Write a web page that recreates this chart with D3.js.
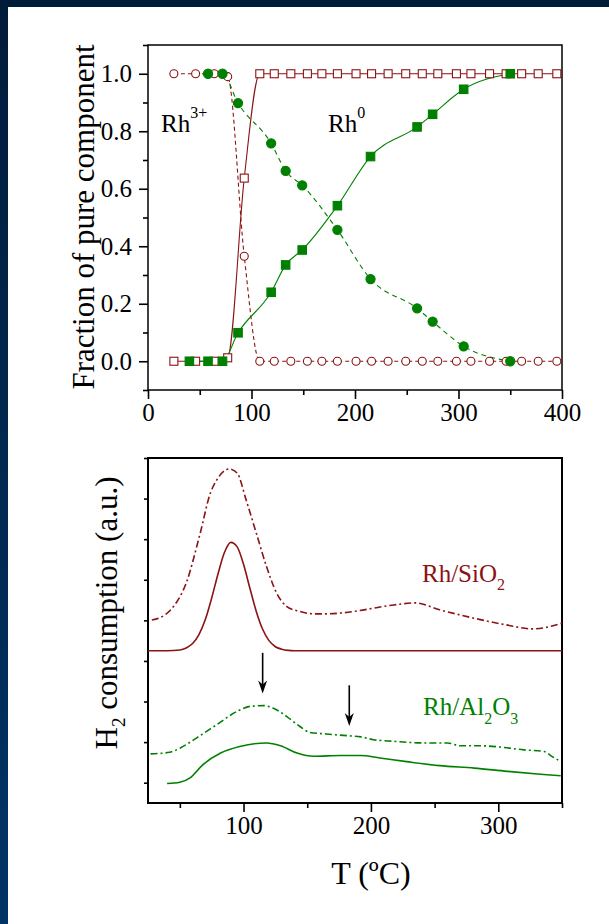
<!DOCTYPE html>
<html>
<head>
<meta charset="utf-8">
<script src="https://cdn.jsdelivr.net/npm/d3@7"></script>
<style>
  html, body { margin: 0; padding: 0; background: #011d3b; }
  svg { display: block; }
  text { font-family: "Liberation Serif", "Times New Roman", serif; }
</style>
</head>
<body>
<div id="chart"></div>
<script>
const WIDTH = 609;
const HEIGHT = 924;

const RED = '#8b1313';
const GREEN = '#008000';

// ---- top panel: fraction of pure component ----
const siTemps = [25, 46, 64, 77, 93, 108, 122, 138, 154, 168, 183, 201, 216, 232, 249, 265, 280, 298, 312, 330, 346, 361, 377, 395];
const siRh3 = [1, 1, 1, 0.99, 0.365, 0, 0, 0, 0, 0, 0, 0, 0, 0, 0, 0, 0, 0, 0, 0, 0, 0, 0, 0];
const siRh0 = [0, 0, 0, 0.012, 0.637, 1, 1, 1, 1, 1, 1, 1, 1, 1, 1, 1, 1, 1, 1, 1, 1, 1, 1, 1];

const alTempsRh0 = [40, 58, 72, 87, 119, 133, 149, 183, 215, 260, 275, 305, 350];
const alRh0 = [0, 0, 0, 0.099, 0.24, 0.335, 0.387, 0.541, 0.712, 0.815, 0.859, 0.946, 1.0];
const alTempsRh3 = [58, 72, 87, 119, 133, 149, 183, 215, 260, 275, 305, 350];
const alRh3 = [1, 1, 0.898, 0.758, 0.662, 0.612, 0.457, 0.286, 0.184, 0.138, 0.052, 0];

const topXTicks = [0, 100, 200, 300, 400];
const topXMinor = [50, 150, 250, 350];
const topYTicks = [0, 0.2, 0.4, 0.6, 0.8, 1.0];
const topYMinor = [-0.1, 0.1, 0.3, 0.5, 0.7, 0.9, 1.1];

// ---- bottom panel: H2 consumption (TPR) ----
const siTprTemps = [25, 40, 50, 55, 60, 65, 70, 75, 80, 85, 90, 95, 100, 105, 110, 115, 120, 125, 130, 135, 140, 200, 260, 350];
const siTpr = [3.25, 3.25, 3.27, 3.32, 3.43, 3.65, 4.02, 4.55, 5.15, 5.67, 5.92, 5.81, 5.38, 4.79, 4.22, 3.78, 3.50, 3.35, 3.29, 3.26, 3.25, 3.25, 3.25, 3.25];

const siTpr2Temps = [28, 34, 45, 55, 66, 74, 79, 89, 95, 102, 110, 118, 126, 134, 144, 155, 165, 176, 191, 202, 218, 235, 254, 280, 306, 327, 350];
const siTpr2 = [4.01, 4.06, 4.34, 4.92, 6.15, 7.14, 7.46, 7.73, 7.63, 6.97, 6.15, 5.33, 4.67, 4.34, 4.22, 4.16, 4.16, 4.18, 4.24, 4.30, 4.38, 4.43, 4.26, 4.06, 3.89, 3.79, 3.93];

const alTprTemps = [40, 50, 58, 68, 82, 97, 118, 129, 142, 155, 176, 192, 207, 228, 254, 281, 307, 333, 349];
const alTpr = [-0.02, 0.01, 0.12, 0.44, 0.73, 0.89, 0.98, 0.91, 0.73, 0.65, 0.67, 0.67, 0.61, 0.52, 0.42, 0.36, 0.28, 0.21, 0.17];

const alTpr2Temps = [27, 42, 50, 63, 79, 95, 105, 116, 123, 134, 144, 152, 165, 181, 192, 202, 218, 241, 260, 270, 286, 301, 320, 336, 342, 349];
const alTpr2 = [0.71, 0.75, 0.85, 1.10, 1.43, 1.76, 1.88, 1.90, 1.84, 1.63, 1.39, 1.24, 1.20, 1.16, 1.13, 1.06, 1.02, 0.98, 0.98, 0.91, 0.91, 0.88, 0.81, 0.77, 0.65, 0.52];

const arrowTemps = [115, 183];
const arrowTop = [3.2, 2.4];
const arrowBottom = [2.2, 1.4];

const botXTicks = [100, 200, 300];
const botXMinor = [50, 150, 250, 350];
const botYTicks = [0, 1, 2, 3, 4, 5, 6, 7, 8];

const zip = (xs, ys) => xs.map((x, i) => [x, ys[i]]);

const svg = d3.select('#chart').append('svg')
  .attr('width', WIDTH).attr('height', HEIGHT);

const defs = svg.append('defs');
const grad = defs.append('linearGradient').attr('id', 'bg').attr('x1', 0).attr('y1', 0).attr('x2', 0).attr('y2', 1);
grad.append('stop').attr('offset', '0%').attr('stop-color', '#011c39');
grad.append('stop').attr('offset', '100%').attr('stop-color', '#003466');

svg.append('rect').attr('width', WIDTH).attr('height', HEIGHT).attr('fill', 'url(#bg)');
svg.append('rect').attr('x', 8).attr('y', 7).attr('width', WIDTH - 8).attr('height', HEIGHT - 7).attr('fill', '#fff');

// axis helper: ticks point outward, the frame box is drawn separately
function drawAxes(g, x, y, opts) {
  const b = g.append('g').attr('transform', `translate(0,${y.range()[0]})`);
  b.call(d3.axisBottom(x).tickValues(opts.xTicks).tickSize(9).tickPadding(4).tickFormat(d3.format('d')));
  b.append('g').call(d3.axisBottom(x).tickValues(opts.xMinor).tickSize(5).tickFormat(''));
  const l = g.append('g').attr('transform', `translate(${x.range()[0]},0)`);
  if (opts.yLabels) {
    l.call(d3.axisLeft(y).tickValues(opts.yTicks).tickSize(9).tickPadding(7).tickFormat(d3.format('.1f')));
  } else {
    l.call(d3.axisLeft(y).tickValues(opts.yTicks).tickSize(4).tickFormat(''));
  }
  if (opts.yMinor) l.append('g').call(d3.axisLeft(y).tickValues(opts.yMinor).tickSize(5).tickFormat(''));
  g.selectAll('.domain').remove();
  g.selectAll('.tick line').attr('stroke', '#000').attr('stroke-width', 1.6);
  g.selectAll('.tick text')
    .attr('fill', '#000')
    .style('font-family', '"Liberation Serif", "Times New Roman", serif')
    .style('font-size', '25px');
  g.append('rect')
    .attr('x', x.range()[0]).attr('y', y.range()[1])
    .attr('width', x.range()[1] - x.range()[0])
    .attr('height', y.range()[0] - y.range()[1])
    .attr('fill', 'none').attr('stroke', '#000').attr('stroke-width', opts.frame);
}

// ================= top panel =================
const x1 = d3.scaleLinear().domain([0, 400]).range([148, 562]);
const y1 = d3.scaleLinear().domain([-0.1, 1.1]).range([390, 45]);
const topG = svg.append('g');

drawAxes(topG, x1, y1, {
  xTicks: topXTicks, xMinor: topXMinor, yTicks: topYTicks, yMinor: topYMinor,
  yLabels: true, frame: 1.5
});

const line1 = d3.line().x(d => x1(d[0])).y(d => y1(d[1])).curve(d3.curveMonotoneX);

const topSeries = [
  { data: zip(siTemps, siRh3), color: RED, dash: '4,3', shape: 'circle', filled: false },
  { data: zip(siTemps, siRh0), color: RED, dash: null, shape: 'square', filled: false },
  { data: zip(alTempsRh3, alRh3), color: GREEN, dash: '5,4', shape: 'circle', filled: true },
  { data: zip(alTempsRh0, alRh0), color: GREEN, dash: null, shape: 'square', filled: true }
];

topSeries.forEach(s => {
  topG.append('path')
    .attr('d', line1(s.data))
    .attr('fill', 'none')
    .attr('stroke', s.color)
    .attr('stroke-width', 1.1)
    .attr('stroke-dasharray', s.dash);
});

topSeries.forEach(s => {
  const g = topG.append('g');
  if (s.shape === 'circle') {
    g.selectAll('circle').data(s.data).join('circle')
      .attr('cx', d => x1(d[0])).attr('cy', d => y1(d[1]))
      .attr('r', s.filled ? 4.6 : 4)
      .attr('fill', s.filled ? s.color : '#fff')
      .attr('stroke', s.color).attr('stroke-width', 1.1);
  } else {
    const sz = s.filled ? 8.5 : 8;
    g.selectAll('rect').data(s.data).join('rect')
      .attr('x', d => x1(d[0]) - sz / 2).attr('y', d => y1(d[1]) - sz / 2)
      .attr('width', sz).attr('height', sz)
      .attr('fill', s.filled ? s.color : '#fff')
      .attr('stroke', s.color).attr('stroke-width', 1.1);
  }
});

const rh3 = topG.append('text').attr('x', 161).attr('y', 132).style('font-size', '25px').attr('fill', '#000');
rh3.append('tspan').text('Rh');
rh3.append('tspan').attr('dy', -14).style('font-size', '16px').text('3+');

const rh0 = topG.append('text').attr('x', 328).attr('y', 132).style('font-size', '25px').attr('fill', '#000');
rh0.append('tspan').text('Rh');
rh0.append('tspan').attr('dy', -14).style('font-size', '16px').text('0');

topG.append('text')
  .attr('transform', 'translate(94,217) rotate(-90)')
  .attr('text-anchor', 'middle')
  .style('font-size', '31px')
  .text('Fraction of pure component');

// ================= bottom panel =================
const x2 = d3.scaleLinear().domain([25, 350]).range([148, 562]);
const y2 = d3.scaleLinear().domain([-0.5, 8]).range([803, 458]);
const botG = svg.append('g');

drawAxes(botG, x2, y2, {
  xTicks: botXTicks, xMinor: botXMinor, yTicks: botYTicks, yMinor: null,
  yLabels: false, frame: 2
});

const line2 = d3.line().x(d => x2(d[0])).y(d => y2(d[1])).curve(d3.curveMonotoneX);

const botSeries = [
  { data: zip(siTpr2Temps, siTpr2), color: RED, dash: '7,3,2,3' },
  { data: zip(siTprTemps, siTpr), color: RED, dash: null },
  { data: zip(alTpr2Temps, alTpr2), color: GREEN, dash: '7,3,2,3' },
  { data: zip(alTprTemps, alTpr), color: GREEN, dash: null }
];

botSeries.forEach(s => {
  botG.append('path')
    .attr('d', line2(s.data))
    .attr('fill', 'none')
    .attr('stroke', s.color)
    .attr('stroke-width', 1.6)
    .attr('stroke-dasharray', s.dash);
});

// arrows marking the Al2O3 reduction features
arrowTemps.forEach((t, i) => {
  const ax = x2(t);
  const yTip = y2(arrowBottom[i]);
  botG.append('line')
    .attr('x1', ax).attr('x2', ax)
    .attr('y1', y2(arrowTop[i])).attr('y2', yTip - 4)
    .attr('stroke', '#000').attr('stroke-width', 1.6);
  botG.append('path')
    .attr('d', `M${ax - 4.5},${yTip - 13} L${ax},${yTip} L${ax + 4.5},${yTip - 13} L${ax},${yTip - 9} Z`)
    .attr('fill', '#000');
});

const siLabel = botG.append('text').attr('x', 422).attr('y', 582).style('font-size', '25px').attr('fill', RED);
siLabel.append('tspan').text('Rh/SiO');
siLabel.append('tspan').attr('dy', 8).style('font-size', '16px').text('2');

const alLabel = botG.append('text').attr('x', 423).attr('y', 715).style('font-size', '25px').attr('fill', GREEN);
alLabel.append('tspan').text('Rh/Al');
alLabel.append('tspan').attr('dy', 9).style('font-size', '16px').text('2');
alLabel.append('tspan').attr('dy', -9).text('O');
alLabel.append('tspan').attr('dy', 9).style('font-size', '16px').text('3');

const h2 = botG.append('text')
  .attr('transform', 'translate(117,613) rotate(-90)')
  .attr('text-anchor', 'middle')
  .style('font-size', '31px');
h2.append('tspan').text('H');
h2.append('tspan').attr('dy', 8).style('font-size', '19px').text('2');
h2.append('tspan').attr('dy', -8).text(' consumption (a.u.)');

botG.append('text')
  .attr('x', 371).attr('y', 884)
  .attr('text-anchor', 'middle')
  .style('font-size', '32px')
  .text('T (ºC)');
</script>
</body>
</html>
